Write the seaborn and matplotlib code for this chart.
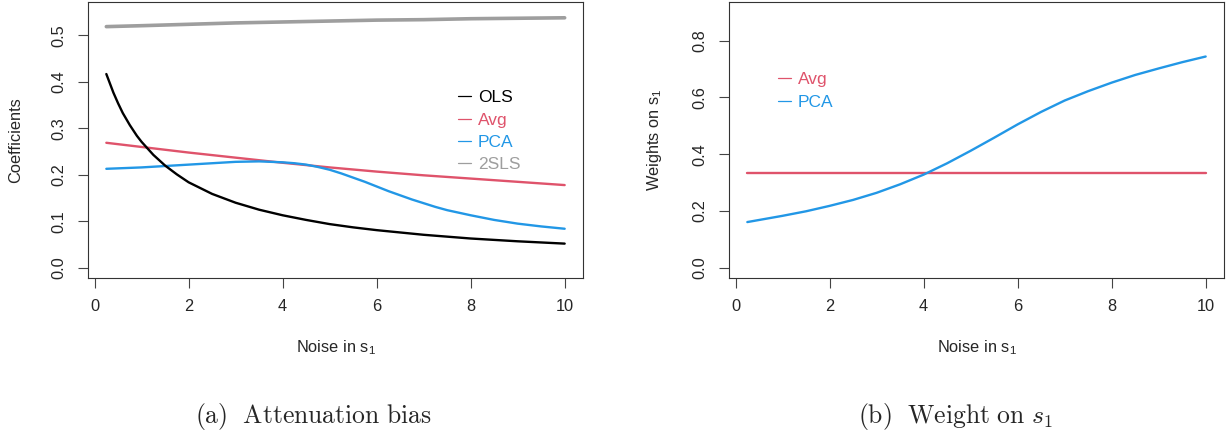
import matplotlib
matplotlib.use("Agg")
import matplotlib.pyplot as plt
import numpy as np
import pandas as pd
import seaborn as sns
from matplotlib.lines import Line2D

# values
# (a) attenuation bias: coefficients vs noise in s1
ols_x = [0.25, 0.4, 0.5, 0.6, 0.75, 0.9, 1, 1.25, 1.5, 1.75, 2, 2.5, 3, 3.5, 4, 4.5, 5,
         5.5, 6, 7, 8, 9, 10]
ols_y = [0.417, 0.377, 0.354, 0.333, 0.307, 0.284, 0.271, 0.243, 0.220, 0.201, 0.184,
         0.159, 0.140, 0.125, 0.113, 0.103, 0.094, 0.087, 0.081, 0.071, 0.063, 0.057, 0.052]

avg_x = [0.25, 1, 2, 3, 4, 5, 6, 7, 8, 9, 10]
avg_y = [0.269, 0.260, 0.248, 0.237, 0.226, 0.216, 0.207, 0.199, 0.192, 0.185, 0.178]

pca_x = [0.25, 1, 1.5, 2, 2.5, 3, 3.5, 4, 4.25, 4.5, 4.75, 5, 5.25, 5.5, 5.75, 6, 6.25,
         6.5, 6.75, 7, 7.25, 7.5, 8, 8.5, 9, 9.5, 10]
pca_y = [0.213, 0.216, 0.219, 0.222, 0.225, 0.228, 0.229, 0.227, 0.225, 0.222, 0.217,
         0.211, 0.203, 0.194, 0.185, 0.175, 0.165, 0.156, 0.147, 0.139, 0.131, 0.124,
         0.113, 0.103, 0.095, 0.089, 0.084]

tsls_x = [0.25, 1, 2, 3, 4, 5, 6, 7, 8, 9, 10]
tsls_y = [0.519, 0.521, 0.524, 0.527, 0.529, 0.531, 0.533, 0.534, 0.536, 0.537, 0.538]

# (b) weight on s1
w_x = [0.25, 1, 1.5, 2, 2.5, 3, 3.5, 4, 4.5, 5, 5.5, 6, 6.5, 7, 7.5, 8, 8.5, 9, 9.5, 10]
w_avg = [1 / 3] * len(w_x)
w_pca = [0.161, 0.183, 0.199, 0.218, 0.239, 0.264, 0.294, 0.328, 0.368, 0.412, 0.458,
         0.505, 0.549, 0.589, 0.622, 0.652, 0.679, 0.702, 0.724, 0.744]

colors = {"OLS": "#000000", "Avg": "#DF536B", "PCA": "#2297E6", "2SLS": "#9E9E9E"}

sns.set_theme(style="white")
plt.rcParams["font.family"] = ["Liberation Sans", "DejaVu Sans"]
plt.rcParams["axes.edgecolor"] = "#333333"
plt.rcParams["axes.linewidth"] = 0.8

fig = plt.figure(figsize=(12.26, 4.34), dpi=100)
ax1 = fig.add_axes([88 / 1226, 156 / 434, 495 / 1226, 276 / 434])
ax2 = fig.add_axes([729 / 1226, 156 / 434, 495 / 1226, 276 / 434])

left = pd.concat([
    pd.DataFrame({"noise": ols_x, "coef": ols_y, "method": "OLS"}),
    pd.DataFrame({"noise": avg_x, "coef": avg_y, "method": "Avg"}),
    pd.DataFrame({"noise": pca_x, "coef": pca_y, "method": "PCA"}),
    pd.DataFrame({"noise": tsls_x, "coef": tsls_y, "method": "2SLS"}),
])
for m in ["2SLS", "Avg", "PCA", "OLS"]:
    sub = left[left["method"] == m]
    sns.lineplot(data=sub, x="noise", y="coef", ax=ax1, color=colors[m],
                 linewidth=2.6 if m == "2SLS" else 1.7, estimator=None, legend=False)

right = pd.DataFrame({"noise": w_x + w_x, "weight": w_avg + w_pca,
                      "method": ["Avg"] * len(w_x) + ["PCA"] * len(w_x)})
sns.lineplot(data=right, x="noise", y="weight", hue="method", ax=ax2,
             palette={"Avg": colors["Avg"], "PCA": colors["PCA"]},
             linewidth=1.7, estimator=None, legend=False)

ax1.set_ylim(-0.022, 0.572)
ax2.set_ylim(-0.036, 0.936)
ax1.set_yticks([0, 0.1, 0.2, 0.3, 0.4, 0.5])
ax2.set_yticks([0, 0.2, 0.4, 0.6, 0.8])

for ax, ylab in [(ax1, "Coefficients"), (ax2, r"Weights on $\mathregular{s_1}$")]:
    ax.set_xlim(-0.14, 10.39)
    ax.set_xticks([0, 2, 4, 6, 8, 10])
    ax.tick_params(axis="both", which="major", length=7.2, width=0.8, color="#444444",
                   labelsize=11.8, direction="out", bottom=True, left=True)
    ax.tick_params(axis="x", pad=8)
    ax.tick_params(axis="y", pad=8.5)
    ax.set_yticklabels([f"{t:.1f}" for t in ax.get_yticks()], rotation=90, va="center")
    ax.set_xlabel(r"Noise in $\mathregular{s_1}$", fontsize=11.8, va="center")
    ax.set_ylabel(ylab, fontsize=11.8, va="center")
    ax.xaxis.set_label_coords(0.5, (278 - 348) / 276)
    for sp in ax.spines.values():
        sp.set_visible(True)

ax1.yaxis.set_label_coords((16 - 88) / 495, 0.5)
ax2.yaxis.set_label_coords((654 - 729) / 495, 0.5)

# R style legends, text coloured like the lines
def r_legend(ax, labels, x_px, top_px):
    handles = [Line2D([], [], color=colors[l], linewidth=0.9) for l in labels]
    ax.legend(handles, labels, loc="upper left", frameon=False,
              bbox_to_anchor=(x_px / 1226, 1 - top_px / 434), bbox_transform=fig.transFigure,
              borderpad=0, borderaxespad=0, handlelength=0.75, handletextpad=0.4,
              labelspacing=0.42, fontsize=12.5,
              labelcolor=[colors[l] for l in labels])

r_legend(ax1, ["OLS", "Avg", "PCA", "2SLS"], 458, 90)
r_legend(ax2, ["Avg", "PCA"], 778, 72)

fig.text(314 / 1226, 1 - 423 / 434, r"$\mathrm{(a)\ \ Attenuation\ bias}$",
         ha="center", va="baseline", fontsize=18.5, math_fontfamily="cm")
fig.text(955 / 1226, 1 - 423 / 434, r"$\mathrm{(b)\ \ Weight\ on\ }s_1$",
         ha="center", va="baseline", fontsize=18.5, math_fontfamily="cm")

fig.savefig("out.png", dpi=100)
